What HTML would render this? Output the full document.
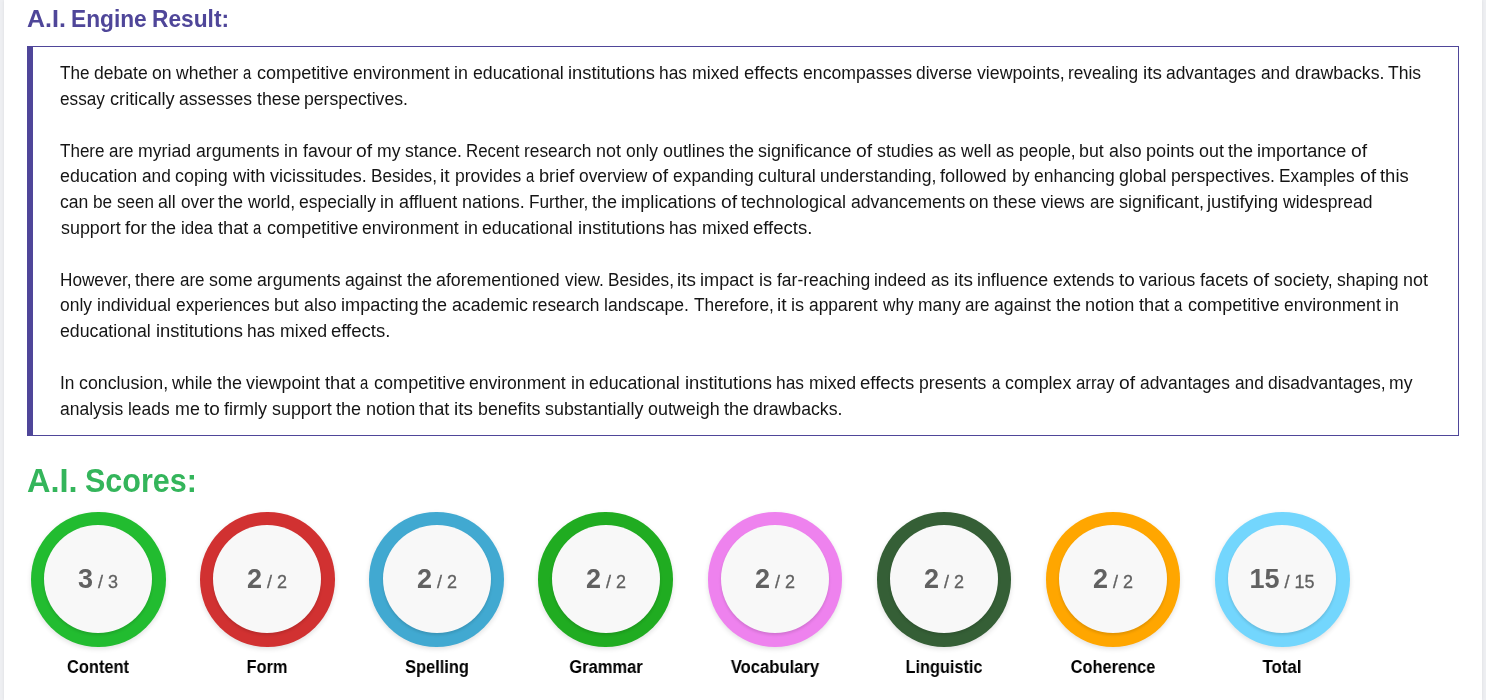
<!DOCTYPE html>
<html><head><meta charset="utf-8"><title>A.I. Engine Result</title>
<style>
html,body{margin:0;padding:0;}
body{width:1486px;height:700px;overflow:hidden;background:#eeeff2;font-family:"Liberation Sans",Arial,sans-serif;position:relative;}
.card{position:absolute;left:4px;top:0;width:1478px;height:700px;background:#fff;box-shadow:0 0 3px rgba(0,0,0,.08);}
.h1{position:absolute;left:27px;top:7px;font-weight:bold;font-size:24px;line-height:24px;color:#4f4699;white-space:nowrap;}
.box{position:absolute;left:27px;top:46px;width:1425px;height:388px;border:1px solid #4f4699;border-left:6px solid #4f4699;}
.txt{position:absolute;left:0px;top:0;will-change:transform;font-size:18px;line-height:18px;color:#151515;white-space:nowrap;}
.txt div{position:absolute;left:0;height:18px;}
.txt span{position:absolute;top:0;transform-origin:0 0;}
.h2{position:absolute;left:27px;top:464px;font-weight:bold;font-size:33.5px;line-height:33.5px;color:#34b55b;white-space:nowrap;}
.c{position:absolute;width:134.6px;height:134.6px;border-radius:50%;box-sizing:border-box;box-shadow:0 2px 5px rgba(0,0,0,.12);}
.c::after{content:'';position:absolute;left:13.3px;top:13.3px;right:13.3px;bottom:13.3px;border-radius:50%;background:#f8f8f8;box-shadow:0 2px 3px rgba(0,0,0,.12);}
.sc{position:absolute;width:200px;text-align:center;color:#616161;white-space:nowrap;line-height:26px;}
.sc b{font-size:27px;font-weight:bold;}
.sc i{font-style:normal;font-size:18px;-webkit-text-stroke:0.3px #616161;}
.lb{position:absolute;width:200px;text-align:center;font-weight:bold;font-size:18px;line-height:18px;color:#000;}
.h1,.h2,.sc,.lb{will-change:transform;}
.h1 span,.h2 span{position:absolute;top:0;transform-origin:0 0;}
</style></head>
<body>
<div class="card"></div>
<div class="h1"><span id="h1a" style="left:0px;transform:scaleX(1.04)">A.I.</span><span id="h1b" style="left:44px;transform:scaleX(.947)">Engine</span><span id="h1c" style="left:124.5px;transform:scaleX(.947)">Result:</span></div>
<div class="box"></div>
<div class="txt">
<div style="top:64.00px"><span style="left:60.34px;transform:scaleX(0.9501)">The</span><span style="left:94.13px;transform:scaleX(0.9741)">debate</span><span style="left:152.04px;transform:scaleX(0.9783)">on</span><span style="left:176.43px;transform:scaleX(0.9740)">whether</span><span style="left:243.44px;transform:scaleX(0.8261)">a</span><span style="left:257.05px;transform:scaleX(1.0045)">competitive</span><span style="left:352.76px;transform:scaleX(0.9764)">environment</span><span style="left:454.36px;transform:scaleX(0.9915)">in</span><span style="left:472.68px;transform:scaleX(0.9860)">educational</span><span style="left:567.98px;transform:scaleX(1.0216)">institutions</span><span style="left:659.42px;transform:scaleX(0.9643)">has</span><span style="left:692.02px;transform:scaleX(0.9832)">mixed</span><span style="left:743.71px;transform:scaleX(1.0305)">effects</span><span style="left:802.60px;transform:scaleX(0.9817)">encompasses</span><span style="left:916.32px;transform:scaleX(0.9677)">diverse</span><span style="left:976.94px;transform:scaleX(0.9859)">viewpoints,</span><span style="left:1068.36px;transform:scaleX(0.9592)">revealing</span><span style="left:1142.84px;transform:scaleX(1.0501)">its</span><span style="left:1166.47px;transform:scaleX(0.9670)">advantages</span><span style="left:1261.28px;transform:scaleX(0.9576)">and</span><span style="left:1294.61px;transform:scaleX(0.9820)">drawbacks.</span><span style="left:1388.23px;transform:scaleX(0.9746)">This</span></div>
<div style="top:90.00px"><span style="left:60.37px;transform:scaleX(0.9540)">essay</span><span style="left:109.79px;transform:scaleX(1.0108)">critically</span><span style="left:179.22px;transform:scaleX(0.9724)">assesses</span><span style="left:256.59px;transform:scaleX(0.9850)">these</span><span style="left:304.24px;transform:scaleX(0.9801)">perspectives.</span></div>
<div style="top:142.00px"><span style="left:60.34px;transform:scaleX(0.9470)">There</span><span style="left:109.34px;transform:scaleX(0.9416)">are</span><span style="left:138.10px;transform:scaleX(0.9838)">myriad</span><span style="left:195.89px;transform:scaleX(0.9817)">arguments</span><span style="left:284.01px;transform:scaleX(0.9911)">in</span><span style="left:302.55px;transform:scaleX(0.9835)">favour</span><span style="left:356.06px;transform:scaleX(1.0726)">of</span><span style="left:376.53px;transform:scaleX(0.9774)">my</span><span style="left:404.84px;transform:scaleX(0.9808)">stance.</span><span style="left:465.99px;transform:scaleX(0.9364)">Recent</span><span style="left:524.29px;transform:scaleX(0.9630)">research</span><span style="left:596.16px;transform:scaleX(0.9955)">not</span><span style="left:625.96px;transform:scaleX(0.9687)">only</span><span style="left:662.52px;transform:scaleX(0.9935)">outlines</span><span style="left:728.55px;transform:scaleX(0.9998)">the</span><span style="left:758.08px;transform:scaleX(0.9936)">significance</span><span style="left:855.73px;transform:scaleX(1.0726)">of</span><span style="left:876.50px;transform:scaleX(0.9881)">studies</span><span style="left:937.64px;transform:scaleX(0.9532)">as</span><span style="left:960.75px;transform:scaleX(0.9812)">well</span><span style="left:995.89px;transform:scaleX(0.9532)">as</span><span style="left:1018.69px;transform:scaleX(0.9585)">people,</span><span style="left:1078.97px;transform:scaleX(0.9865)">but</span><span style="left:1108.67px;transform:scaleX(0.9875)">also</span><span style="left:1145.70px;transform:scaleX(1.0055)">points</span><span style="left:1198.60px;transform:scaleX(0.9934)">out</span><span style="left:1228.10px;transform:scaleX(0.9998)">the</span><span style="left:1257.32px;transform:scaleX(1.0034)">importance</span><span style="left:1350.87px;transform:scaleX(1.0726)">of</span></div>
<div style="top:167.00px"><span style="left:60.34px;transform:scaleX(0.9880)">education</span><span style="left:142.08px;transform:scaleX(0.9578)">and</span><span style="left:175.38px;transform:scaleX(0.9938)">coping</span><span style="left:232.90px;transform:scaleX(1.0136)">with</span><span style="left:269.91px;transform:scaleX(0.9972)">vicissitudes.</span><span style="left:370.85px;transform:scaleX(0.9546)">Besides,</span><span style="left:440.31px;transform:scaleX(1.0655)">it</span><span style="left:454.78px;transform:scaleX(0.9725)">provides</span><span style="left:525.86px;transform:scaleX(0.8263)">a</span><span style="left:539.46px;transform:scaleX(1.0109)">brief</span><span style="left:579.29px;transform:scaleX(0.9626)">overview</span><span style="left:652.46px;transform:scaleX(1.0731)">of</span><span style="left:672.98px;transform:scaleX(0.9701)">expanding</span><span style="left:758.06px;transform:scaleX(0.9940)">cultural</span><span style="left:820.28px;transform:scaleX(0.9766)">understanding,</span><span style="left:940.47px;transform:scaleX(1.0087)">followed</span><span style="left:1011.65px;transform:scaleX(0.9336)">by</span><span style="left:1033.99px;transform:scaleX(0.9711)">enhancing</span><span style="left:1119.20px;transform:scaleX(0.9886)">global</span><span style="left:1171.27px;transform:scaleX(0.9797)">perspectives.</span><span style="left:1279.38px;transform:scaleX(0.9584)">Examples</span><span style="left:1359.70px;transform:scaleX(1.0731)">of</span><span style="left:1379.97px;transform:scaleX(1.0243)">this</span></div>
<div style="top:193.00px"><span style="left:60.35px;transform:scaleX(0.9751)">can</span><span style="left:93.14px;transform:scaleX(0.9581)">be</span><span style="left:116.90px;transform:scaleX(0.9457)">seen</span><span style="left:158.44px;transform:scaleX(0.9840)">all</span><span style="left:180.73px;transform:scaleX(0.9561)">over</span><span style="left:218.35px;transform:scaleX(1.0007)">the</span><span style="left:247.99px;transform:scaleX(0.9813)">world,</span><span style="left:298.74px;transform:scaleX(0.9747)">especially</span><span style="left:380.36px;transform:scaleX(0.9921)">in</span><span style="left:398.82px;transform:scaleX(0.9917)">affluent</span><span style="left:461.91px;transform:scaleX(0.9957)">nations.</span><span style="left:528.87px;transform:scaleX(0.9556)">Further,</span><span style="left:591.57px;transform:scaleX(1.0007)">the</span><span style="left:620.81px;transform:scaleX(1.0127)">implications</span><span style="left:720.60px;transform:scaleX(1.0736)">of</span><span style="left:740.88px;transform:scaleX(0.9988)">technological</span><span style="left:850.53px;transform:scaleX(0.9756)">advancements</span><span style="left:969.42px;transform:scaleX(0.9789)">on</span><span style="left:993.23px;transform:scaleX(0.9850)">these</span><span style="left:1041.04px;transform:scaleX(0.9741)">views</span><span style="left:1089.69px;transform:scaleX(0.9425)">are</span><span style="left:1118.77px;transform:scaleX(0.9983)">significant,</span><span style="left:1207.11px;transform:scaleX(1.0164)">justifying</span><span style="left:1283.07px;transform:scaleX(0.9725)">widespread</span></div>
<div style="top:219.00px"><span style="left:60.61px;transform:scaleX(0.9936)">support</span><span style="left:125.37px;transform:scaleX(1.0386)">for</span><span style="left:151.30px;transform:scaleX(0.9998)">the</span><span style="left:180.60px;transform:scaleX(0.9376)">idea</span><span style="left:217.63px;transform:scaleX(1.0109)">that</span><span style="left:253.11px;transform:scaleX(0.8258)">a</span><span style="left:266.72px;transform:scaleX(1.0042)">competitive</span><span style="left:362.39px;transform:scaleX(0.9761)">environment</span><span style="left:463.97px;transform:scaleX(0.9911)">in</span><span style="left:482.28px;transform:scaleX(0.9857)">educational</span><span style="left:577.55px;transform:scaleX(1.0212)">institutions</span><span style="left:668.96px;transform:scaleX(0.9640)">has</span><span style="left:701.55px;transform:scaleX(0.9828)">mixed</span><span style="left:753.22px;transform:scaleX(1.0289)">effects.</span></div>
<div style="top:271.00px"><span style="left:60.34px;transform:scaleX(0.9543)">However,</span><span style="left:135.37px;transform:scaleX(0.9771)">there</span><span style="left:179.90px;transform:scaleX(0.9421)">are</span><span style="left:208.98px;transform:scaleX(0.9892)">some</span><span style="left:256.92px;transform:scaleX(0.9822)">arguments</span><span style="left:345.24px;transform:scaleX(0.9813)">against</span><span style="left:406.85px;transform:scaleX(1.0004)">the</span><span style="left:436.26px;transform:scaleX(0.9883)">aforementioned</span><span style="left:564.61px;transform:scaleX(0.9681)">view.</span><span style="left:607.56px;transform:scaleX(0.9547)">Besides,</span><span style="left:677.05px;transform:scaleX(1.0504)">its</span><span style="left:700.48px;transform:scaleX(1.0077)">impact</span><span style="left:758.75px;transform:scaleX(1.0075)">is</span><span style="left:776.68px;transform:scaleX(0.9712)">far-reaching</span><span style="left:874.48px;transform:scaleX(0.9643)">indeed</span><span style="left:931.32px;transform:scaleX(0.9538)">as</span><span style="left:953.99px;transform:scaleX(1.0504)">its</span><span style="left:977.46px;transform:scaleX(0.9871)">influence</span><span style="left:1052.86px;transform:scaleX(0.9733)">extends</span><span style="left:1118.61px;transform:scaleX(1.0513)">to</span><span style="left:1138.95px;transform:scaleX(0.9711)">various</span><span style="left:1200.17px;transform:scaleX(1.0077)">facets</span><span style="left:1253.11px;transform:scaleX(1.0732)">of</span><span style="left:1273.89px;transform:scaleX(0.9848)">society,</span><span style="left:1336.58px;transform:scaleX(0.9748)">shaping</span><span style="left:1402.50px;transform:scaleX(0.9961)">not</span></div>
<div style="top:296.00px"><span style="left:60.35px;transform:scaleX(0.9695)">only</span><span style="left:96.94px;transform:scaleX(0.9864)">individual</span><span style="left:175.55px;transform:scaleX(0.9640)">experiences</span><span style="left:273.79px;transform:scaleX(0.9874)">but</span><span style="left:303.51px;transform:scaleX(0.9884)">also</span><span style="left:340.54px;transform:scaleX(1.0084)">impacting</span><span style="left:422.43px;transform:scaleX(1.0008)">the</span><span style="left:451.85px;transform:scaleX(0.9859)">academic</span><span style="left:532.34px;transform:scaleX(0.9638)">research</span><span style="left:604.41px;transform:scaleX(0.9754)">landscape.</span><span style="left:693.57px;transform:scaleX(0.9614)">Therefore,</span><span style="left:776.63px;transform:scaleX(1.0661)">it</span><span style="left:791.04px;transform:scaleX(1.0079)">is</span><span style="left:808.90px;transform:scaleX(0.9652)">apparent</span><span style="left:882.74px;transform:scaleX(0.9550)">why</span><span style="left:917.88px;transform:scaleX(0.9697)">many</span><span style="left:965.32px;transform:scaleX(0.9425)">are</span><span style="left:994.28px;transform:scaleX(0.9817)">against</span><span style="left:1055.91px;transform:scaleX(1.0008)">the</span><span style="left:1085.16px;transform:scaleX(1.0064)">notion</span><span style="left:1138.70px;transform:scaleX(1.0118)">that</span><span style="left:1174.21px;transform:scaleX(0.8267)">a</span><span style="left:1187.83px;transform:scaleX(1.0051)">competitive</span><span style="left:1283.59px;transform:scaleX(0.9770)">environment</span><span style="left:1385.25px;transform:scaleX(0.9922)">in</span></div>
<div style="top:322.00px"><span style="left:60.34px;transform:scaleX(0.9858)">educational</span><span style="left:155.62px;transform:scaleX(1.0213)">institutions</span><span style="left:247.05px;transform:scaleX(0.9641)">has</span><span style="left:279.64px;transform:scaleX(0.9829)">mixed</span><span style="left:331.31px;transform:scaleX(1.0290)">effects.</span></div>
<div style="top:374.00px"><span style="left:60.27px;transform:scaleX(0.9606)">In</span><span style="left:79.14px;transform:scaleX(0.9893)">conclusion,</span><span style="left:172.20px;transform:scaleX(0.9843)">while</span><span style="left:216.60px;transform:scaleX(0.9999)">the</span><span style="left:246.04px;transform:scaleX(0.9862)">viewpoint</span><span style="left:324.69px;transform:scaleX(1.0109)">that</span><span style="left:360.17px;transform:scaleX(0.8259)">a</span><span style="left:373.78px;transform:scaleX(1.0042)">competitive</span><span style="left:469.46px;transform:scaleX(0.9761)">environment</span><span style="left:571.04px;transform:scaleX(0.9911)">in</span><span style="left:589.35px;transform:scaleX(0.9857)">educational</span><span style="left:684.62px;transform:scaleX(1.0213)">institutions</span><span style="left:776.04px;transform:scaleX(0.9641)">has</span><span style="left:808.63px;transform:scaleX(0.9829)">mixed</span><span style="left:860.30px;transform:scaleX(1.0302)">effects</span><span style="left:919.20px;transform:scaleX(0.9763)">presents</span><span style="left:991.51px;transform:scaleX(0.8259)">a</span><span style="left:1005.12px;transform:scaleX(0.9902)">complex</span><span style="left:1076.27px;transform:scaleX(0.9352)">array</span><span style="left:1119.15px;transform:scaleX(1.0726)">of</span><span style="left:1139.80px;transform:scaleX(0.9667)">advantages</span><span style="left:1234.59px;transform:scaleX(0.9573)">and</span><span style="left:1267.92px;transform:scaleX(0.9722)">disadvantages,</span><span style="left:1389.28px;transform:scaleX(0.9774)">my</span></div>
<div style="top:400.00px"><span style="left:60.49px;transform:scaleX(0.9724)">analysis</span><span style="left:128.48px;transform:scaleX(0.9673)">leads</span><span style="left:174.71px;transform:scaleX(0.9923)">me</span><span style="left:203.52px;transform:scaleX(1.0514)">to</span><span style="left:223.91px;transform:scaleX(1.0036)">firmly</span><span style="left:271.91px;transform:scaleX(0.9943)">support</span><span style="left:336.26px;transform:scaleX(1.0005)">the</span><span style="left:365.50px;transform:scaleX(1.0061)">notion</span><span style="left:419.03px;transform:scaleX(1.0116)">that</span><span style="left:454.18px;transform:scaleX(1.0505)">its</span><span style="left:477.67px;transform:scaleX(0.9890)">benefits</span><span style="left:544.93px;transform:scaleX(0.9932)">substantially</span><span style="left:647.89px;transform:scaleX(0.9934)">outweigh</span><span style="left:723.65px;transform:scaleX(1.0005)">the</span><span style="left:752.96px;transform:scaleX(0.9824)">drawbacks.</span></div>
</div>
<div class="h2"><span id="h2a" style="left:0px;transform:scaleX(.972)">A.I.</span><span id="h2b" style="left:58px;transform:scaleX(.91)">Scores:</span></div>
<div class="c" style="left:31.00px;top:512.10px;background:#22bc30"></div>
<div class="sc" style="left:-1.70px;top:566.00px"><b>3</b><i> / 3</i></div>
<div class="lb" style="left:-1.70px;top:658.00px;transform:scaleX(0.9125)">Content</div>
<div class="c" style="left:200.14px;top:512.10px;background:#d13131"></div>
<div class="sc" style="left:167.44px;top:566.00px"><b>2</b><i> / 2</i></div>
<div class="lb" style="left:167.44px;top:658.00px;transform:scaleX(0.9095)">Form</div>
<div class="c" style="left:369.28px;top:512.10px;background:#41a9d1"></div>
<div class="sc" style="left:336.58px;top:566.00px"><b>2</b><i> / 2</i></div>
<div class="lb" style="left:336.58px;top:658.00px;transform:scaleX(0.9111)">Spelling</div>
<div class="c" style="left:538.42px;top:512.10px;background:#20ac21"></div>
<div class="sc" style="left:505.72px;top:566.00px"><b>2</b><i> / 2</i></div>
<div class="lb" style="left:505.72px;top:658.00px;transform:scaleX(0.9171)">Grammar</div>
<div class="c" style="left:707.56px;top:512.10px;background:#ee82ee"></div>
<div class="sc" style="left:674.86px;top:566.00px"><b>2</b><i> / 2</i></div>
<div class="lb" style="left:674.86px;top:658.00px;transform:scaleX(0.9248)">Vocabulary</div>
<div class="c" style="left:876.70px;top:512.10px;background:#355f36"></div>
<div class="sc" style="left:844.00px;top:566.00px"><b>2</b><i> / 2</i></div>
<div class="lb" style="left:844.00px;top:658.00px;transform:scaleX(0.9053)">Linguistic</div>
<div class="c" style="left:1045.84px;top:512.10px;background:#ffa600"></div>
<div class="sc" style="left:1013.14px;top:566.00px"><b>2</b><i> / 2</i></div>
<div class="lb" style="left:1013.14px;top:658.00px;transform:scaleX(0.9104)">Coherence</div>
<div class="c" style="left:1214.98px;top:512.10px;background:#73d6fd"></div>
<div class="sc" style="left:1182.28px;top:566.00px"><b>15</b><i> / 15</i></div>
<div class="lb" style="left:1182.28px;top:658.00px;transform:scaleX(0.9379)">Total</div>
</body></html>
